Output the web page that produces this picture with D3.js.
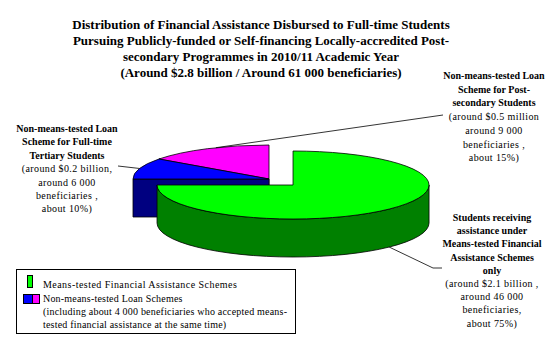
<!DOCTYPE html>
<html>
<head>
<meta charset="utf-8">
<script src="https://cdn.jsdelivr.net/npm/d3@7"></script>
<style>
  body { margin: 0; background: #fff; }
  svg { display: block; }
  text { font-family: "Liberation Serif", "DejaVu Serif", serif; }
</style>
</head>
<body>
<div id="chart"></div>
<script>
// slices, clockwise from 12 o'clock
const categories = ['Means-tested', 'Loan Full-time Tertiary', 'Loan Post-secondary']
const shares = [75, 10, 15]
const topColours = ['#00ff00', '#0000ff', '#ff00ff']
const sideColours = ['#008000', '#000080', '#800080']
const explode = [0.25, 0, 0]

const titleLines = [
  'Distribution of Financial Assistance Disbursed to Full-time Students',
  'Pursuing Publicly-funded or Self-financing Locally-accredited Post-',
  'secondary Programmes in 2010/11 Academic Year',
  '(Around $2.8 billion / Around 61 000 beneficiaries)'
]

const labelBold = [
  ['Students receiving', 'assistance under', 'Means-tested Financial', 'Assistance Schemes', 'only'],
  ['Non-means-tested Loan', 'Scheme for Full-time', 'Tertiary Students'],
  ['Non-means-tested Loan', 'Scheme for Post-', 'secondary Students']
]
const labelPlain = [
  ['(around $2.1 billion ,', 'around 46 000', 'beneficiaries,', 'about 75%)'],
  ['(around $0.2 billion,', 'around 6 000', 'beneficiaries ,', 'about 10%)'],
  ['(around $0.5 million', 'around 9 000', 'beneficiaries ,', 'about 15%)']
]

const legendLines = [
  'Means-tested Financial Assistance Schemes',
  'Non-means-tested Loan Schemes',
  '(including about 4 000 beneficiaries who accepted means-',
  'tested financial assistance at the same time)'
]

function draw() {
  const width = 554
  const height = 348
  const serif = '"Liberation Serif", "DejaVu Serif", serif'

  const svg = d3.select('#chart')
    .append('svg')
    .attr('width', width)
    .attr('height', height)
    .attr('font-family', serif)

  // title
  svg.append('g')
    .selectAll('text')
    .data(titleLines)
    .join('text')
    .attr('x', 261)
    .attr('y', (d, i) => 29 + i * 16)
    .attr('text-anchor', 'middle')
    .attr('font-family', serif)
    .attr('font-size', 13)
    .attr('font-weight', 'bold')
    .text(d => d)

  // 3d pie
  const cx = 269, cy = 179, rx = 136, ry = 34, depth = 38

  const pie = d3.pie().sort(null).startAngle(0).endAngle(2 * Math.PI)
  const arcs = pie(shares).map((d, i) => {
    const mid = (d.startAngle + d.endAngle) / 2
    d.index = i
    d.mid = mid
    d.ox = cx + explode[i] * rx * Math.sin(mid)
    d.oy = cy - explode[i] * ry * Math.cos(mid)
    return d
  })

  const pt = (d, a, dz) => [d.ox + rx * Math.sin(a), d.oy - ry * Math.cos(a) + dz]

  const topPath = d => {
    const p0 = pt(d, d.startAngle, 0)
    const p1 = pt(d, d.endAngle, 0)
    const large = d.endAngle - d.startAngle > Math.PI ? 1 : 0
    return `M${d.ox},${d.oy}L${p0}A${rx},${ry} 0 ${large} 1 ${p1}Z`
  }

  const outerPath = d => {
    const s = Math.max(d.startAngle, Math.PI / 2)
    const e = Math.min(d.endAngle, 3 * Math.PI / 2)
    if (e <= s) return null
    const large = e - s > Math.PI ? 1 : 0
    return `M${pt(d, s, 0)}A${rx},${ry} 0 ${large} 1 ${pt(d, e, 0)}` +
      `L${pt(d, e, depth)}A${rx},${ry} 0 ${large} 0 ${pt(d, s, depth)}Z`
  }

  const cutPath = (d, a) => {
    const p = pt(d, a, 0), q = pt(d, a, depth)
    return `M${d.ox},${d.oy}L${p}L${q}L${d.ox},${d.oy + depth}Z`
  }

  // back slices first
  const order = arcs.slice().sort((a, b) =>
    (a.oy - ry * Math.cos(a.mid)) - (b.oy - ry * Math.cos(b.mid)))

  const pieG = svg.append('g')
    .attr('stroke', '#000')
    .attr('stroke-width', 0.8)
    .attr('stroke-linejoin', 'round')

  order.forEach(d => {
    const g = pieG.append('g')
    if (Math.sin(d.startAngle) < -1e-6) {
      g.append('path').attr('d', cutPath(d, d.startAngle)).attr('fill', sideColours[d.index])
    }
    if (Math.sin(d.endAngle) > 1e-6) {
      g.append('path').attr('d', cutPath(d, d.endAngle)).attr('fill', sideColours[d.index])
    }
    const op = outerPath(d)
    if (op) g.append('path').attr('d', op).attr('fill', sideColours[d.index])
    g.append('path').attr('d', topPath(d)).attr('fill', topColours[d.index])
  })

  // labels with leader lines
  const labelPos = [
    { x: 492, y: 221, lh: 13.2 },
    { x: 67, y: 132, lh: 13.4 },
    { x: 494, y: 79, lh: 13.7 }
  ]
  const leaderAngle = [arcs[0].mid, arcs[1].mid, arcs[2].mid + 0.07]
  const leaderDepth = [depth, 0, 0]
  const leaderEnds = [
    [[433, 268], [442, 268]],
    [[118, 166]],
    [[443, 115]]
  ]

  const lineGen = d3.line()
  arcs.forEach((d, i) => {
    const pts = [pt(d, leaderAngle[i], leaderDepth[i])].concat(leaderEnds[i])
    svg.append('path')
      .attr('d', lineGen(pts))
      .attr('fill', 'none')
      .attr('stroke', '#000')
      .attr('stroke-width', 0.8)

    const lines = labelBold[i].map(t => ({ t, bold: true }))
      .concat(labelPlain[i].map(t => ({ t, bold: false })))
    svg.append('g')
      .selectAll('text')
      .data(lines)
      .join('text')
      .attr('x', labelPos[i].x)
      .attr('y', (l, j) => labelPos[i].y + j * labelPos[i].lh)
      .attr('text-anchor', 'middle')
      .attr('font-family', serif)
      .attr('font-size', 10)
      .attr('font-weight', l => l.bold ? 'bold' : 'normal')
      .attr('letter-spacing', l => l.bold ? 0 : 0.4)
      .text(l => l.t)
  })

  // legend
  const legend = svg.append('g')
  legend.append('rect')
    .attr('x', 16.5)
    .attr('y', 269.5)
    .attr('width', 279)
    .attr('height', 64)
    .attr('fill', '#fff')
    .attr('stroke', '#000')
    .attr('stroke-width', 1)

  legend.append('rect')
    .attr('x', 27.5).attr('y', 275.5).attr('width', 5).attr('height', 12)
    .attr('fill', topColours[0]).attr('stroke', '#000')
  legend.append('rect')
    .attr('x', 23.5).attr('y', 294.5).attr('width', 9).attr('height', 9)
    .attr('fill', topColours[1]).attr('stroke', '#000')
  legend.append('rect')
    .attr('x', 32.5).attr('y', 294.5).attr('width', 7).attr('height', 9)
    .attr('fill', topColours[2]).attr('stroke', '#000')

  legend.selectAll('text')
    .data(legendLines)
    .join('text')
    .attr('x', 43)
    .attr('y', (d, i) => [288, 301.5, 315, 328][i])
    .attr('font-family', serif)
    .attr('font-size', 10)
    .attr('letter-spacing', (d, i) => i === 0 ? 0.45 : 0.2)
    .text(d => d)
}

draw()
</script>
</body>
</html>
